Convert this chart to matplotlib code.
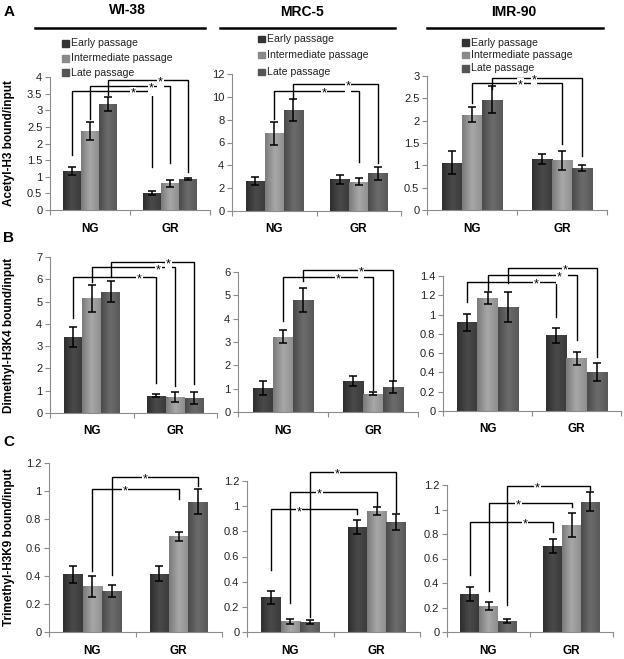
import numpy as np
import matplotlib.pyplot as plt
from matplotlib.patches import Rectangle
from matplotlib.colors import LinearSegmentedColormap
from matplotlib.lines import Line2D

plt.rcParams['font.family'] = ['Liberation Sans', 'DejaVu Sans']

W, H = 624, 659

# --- data ---
cell_lines = ["WI-38", "MRC-5", "IMR-90"]
marks = ["Acetyl-H3", "Dimethyl-H3K4", "Trimethyl-H3K9"]
passages = ["Early passage", "Intermediate passage", "Late passage"]
conditions = ["NG", "GR"]

# rows: NG, GR ; columns: early, intermediate, late
h3ac_wi38 = [[1.18, 2.38, 3.18], [0.50, 0.80, 0.93]]
h3ac_wi38_err = [[0.12, 0.26, 0.21], [0.06, 0.10, 0.04]]
h3ac_mrc5 = [[2.63, 6.80, 8.85], [2.77, 2.57, 3.30]]
h3ac_mrc5_err = [[0.35, 1.00, 0.95], [0.37, 0.30, 0.55]]
h3ac_imr90 = [[1.06, 2.13, 2.47], [1.15, 1.11, 0.94]]
h3ac_imr90_err = [[0.26, 0.17, 0.30], [0.11, 0.21, 0.06]]

h3k4_wi38 = [[3.42, 5.15, 5.45], [0.78, 0.72, 0.68]]
h3k4_wi38_err = [[0.45, 0.60, 0.48], [0.06, 0.22, 0.26]]
h3k4_mrc5 = [[1.02, 3.23, 4.80], [1.33, 0.79, 1.08]]
h3k4_mrc5_err = [[0.30, 0.27, 0.50], [0.22, 0.08, 0.26]]
h3k4_imr90 = [[0.92, 1.17, 1.08], [0.785, 0.545, 0.405]]
h3k4_imr90_err = [[0.09, 0.065, 0.155], [0.075, 0.065, 0.095]]

h3k9_wi38 = [[0.41, 0.325, 0.29], [0.415, 0.68, 0.925]]
h3k9_wi38_err = [[0.062, 0.076, 0.041], [0.053, 0.032, 0.089]]
h3k9_mrc5 = [[0.275, 0.085, 0.08], [0.835, 0.963, 0.875]]
h3k9_mrc5_err = [[0.05, 0.02, 0.017], [0.054, 0.033, 0.066]]
h3k9_imr90 = [[0.31, 0.21, 0.087], [0.703, 0.873, 1.065]]
h3k9_imr90_err = [[0.061, 0.034, 0.016], [0.059, 0.10, 0.078]]

means = [[h3ac_wi38, h3ac_mrc5, h3ac_imr90],
         [h3k4_wi38, h3k4_mrc5, h3k4_imr90],
         [h3k9_wi38, h3k9_mrc5, h3k9_imr90]]
errs = [[h3ac_wi38_err, h3ac_mrc5_err, h3ac_imr90_err],
        [h3k4_wi38_err, h3k4_mrc5_err, h3k4_imr90_err],
        [h3k9_wi38_err, h3k9_mrc5_err, h3k9_imr90_err]]

y_max = [[4, 12, 3], [7, 6, 1.4], [1.2, 1.2, 1.2]]
y_step = [[0.5, 2, 0.5], [1, 1, 0.2], [0.2, 0.2, 0.2]]

# significance brackets: (NG bar, GR bar, left foot, right foot, top, star x)
sig = [
    [[(0, 0, 1.65, 1.30, 3.58, 0.54), (1, 1, 2.75, 1.40, 3.72, 0.76), (2, 2, 3.45, 1.15, 3.90, 0.88)],
     [(1, 1, 8.1, 4.3, 10.55, 0.59), (2, 2, 9.78, 4.23, 11.1, 0.87)],
     [(1, 1, 2.39, 1.47, 2.85, 0.54), (2, 2, 2.70, 1.22, 2.95, 0.69)]],
    [[(0, 0, 4.25, 1.34, 6.11, 0.57), (1, 1, 5.89, 1.19, 6.53, 0.80), (2, 2, 6.11, 1.31, 6.78, 0.92)],
     [(1, 1, 3.88, 0.93, 5.77, 0.61), (2, 2, 5.63, 1.39, 6.10, 0.87)],
     [(0, 0, 1.13, 0.976, 1.34, 0.55), (1, 1, 1.25, 0.734, 1.41, 0.81), (2, 2, 1.33, 0.56, 1.486, 0.87)]],
    [[(1, 1, 0.43, 0.944, 1.015, 0.375), (2, 2, 0.407, 1.034, 1.10, 0.61)],
     [(0, 0, 0.49, 0.94, 0.974, 0.10), (1, 1, 0.23, 1.00, 1.115, 0.34), (2, 2, 0.12, 0.956, 1.274, 0.54)],
     [(0, 0, 0.464, 0.818, 0.90, 0.44), (1, 1, 0.335, 1.017, 1.05, 0.36), (2, 2, 0.218, 1.16, 1.195, 0.59)]],
]

# --- layout in pixels (left, top, right, bottom) ---
boxes = [
    [(50, 77, 210, 210), (232, 74, 401, 211), (427, 76, 607, 210)],
    [(50, 257, 217, 413), (238, 272, 418, 412), (443, 276, 621, 411)],
    [(49, 463, 222, 632), (247, 481, 420, 632), (447, 485, 613, 632)],
]
shades = [["#2e2e2e", "#4a4a4a", "#3a3a3a"],
          ["#7a7a7a", "#a8a8a8", "#8e8e8e"],
          ["#4a4a4a", "#6c6c6c", "#585858"]]
legend_sq = ["#333333", "#8a8a8a", "#555555"]
bw = 0.225
axis_col = "#8c8c8c"


def fx(px):
    return px / W


def fy(py):
    return 1 - py / H


def shade_bar(ax, patch, cmap):
    x0, y0 = patch.get_x(), patch.get_y()
    w, h = patch.get_width(), patch.get_height()
    grad = np.linspace(0, 1, 64).reshape(1, -1)
    im = ax.imshow(grad, extent=[x0, x0 + w, y0, y0 + h], cmap=cmap,
                   aspect='auto', zorder=2.1, interpolation='bicubic')
    im.set_clip_path(patch)


fig = plt.figure(figsize=(W / 100, H / 100), dpi=100)
cmaps = [LinearSegmentedColormap.from_list(f"p{k}", shades[k]) for k in range(3)]

for r in range(3):
    for c in range(3):
        l, t, rt, b = boxes[r][c]
        ax = fig.add_axes([fx(l), fy(b), (rt - l) / W, (b - t) / H])
        m = np.array(means[r][c])
        e = np.array(errs[r][c])
        for k in range(3):
            xs = np.arange(2) + (k - 1) * bw
            bars = ax.bar(xs, m[:, k], width=bw, color=shades[k][1], zorder=2,
                          linewidth=0)
            for p in bars:
                shade_bar(ax, p, cmaps[k])
            ax.errorbar(xs, m[:, k], yerr=e[:, k], fmt='none', ecolor='black',
                        elinewidth=1.1, capsize=2.6, capthick=1.1, zorder=3)

        for (i, j, lb, rb, top, sx) in sig[r][c]:
            lx = (i - 1) * bw
            rx = 1 + (j - 1) * bw
            ax.plot([lx, lx, rx, rx], [lb, top, top, rb], color='black', lw=1.0,
                    clip_on=False, zorder=4, solid_joinstyle='miter')
            ax.annotate('*', xy=(sx, top), xytext=(0, -1.8),
                        textcoords='offset points', ha='center', va='center',
                        fontsize=9, color='black', zorder=5,
                        annotation_clip=False,
                        bbox=dict(fc='white', ec='none', pad=0.5))

        ax.set_xlim(-0.5, 1.5)
        ax.set_ylim(0, y_max[r][c])
        ticks = np.arange(0, y_max[r][c] + 1e-9, y_step[r][c])
        ax.set_yticks(ticks)
        ax.set_yticklabels([f"{v:g}" for v in np.round(ticks, 2)])
        ax.set_xticks([-0.5, 0.5, 1.5])
        ax.set_xticklabels([])
        ax.set_xticks([0, 1], conditions, minor=True)
        ax.tick_params(axis='x', which='minor', length=0, pad=9,
                       labelsize=8.5)
        for lab in ax.get_xticklabels(minor=True):
            lab.set_fontweight('bold')
        ax.tick_params(axis='x', which='major', length=3.5, color=axis_col,
                       direction='out', width=0.8)
        ax.tick_params(axis='y', length=3.5, color=axis_col, direction='out',
                       width=0.8, labelsize=8, pad=2, labelcolor='#222222')
        for s in ['top', 'right']:
            ax.spines[s].set_visible(False)
        for s in ['left', 'bottom']:
            ax.spines[s].set_color(axis_col)
            ax.spines[s].set_linewidth(0.8)
        ax.patch.set_alpha(0)

# panel letters and y labels
for r, (letter, ly) in enumerate(zip("ABC", [12, 238, 442])):
    fig.text(fx(9), fy(ly), letter, fontsize=11, fontweight='bold',
             ha='center', va='center')
    l, t, rt, b = boxes[r][0]
    fig.text(fx(9), fy((t + b) / 2), f"{marks[r]} bound/input", rotation=90,
             fontsize=8.5, fontweight='bold', ha='center', va='center')

# cell line titles with rules
title_pos = [(127, 10), (302, 12), (514, 12)]
rules = [(35, 205), (220, 395), (427, 603)]
for name, (tx, ty), (x0, x1) in zip(cell_lines, title_pos, rules):
    fig.text(fx(tx), fy(ty), name, fontsize=10, fontweight='bold',
             ha='center', va='center')
    fig.add_artist(Line2D([fx(x0), fx(x1)], [fy(28), fy(28)], color='black',
                          lw=1.8, transform=fig.transFigure))

# legends (Excel style, drawn by hand)
legend_left = [62, 258, 462]
legend_rows = [[43.3, 58.3, 72.7], [39, 55, 72], [42.7, 55, 68.3]]
sq = 6.5
for lx, rows in zip(legend_left, legend_rows):
    for k, ry in enumerate(rows):
        fig.add_artist(Rectangle((fx(lx), fy(ry + sq / 2)), sq / W, sq / H,
                                 color=legend_sq[k], transform=fig.transFigure))
        fig.text(fx(lx + sq + 2.5), fy(ry), passages[k], fontsize=7.6,
                 ha='left', va='center', color='#222222')

fig.savefig("out.png", dpi=100)
